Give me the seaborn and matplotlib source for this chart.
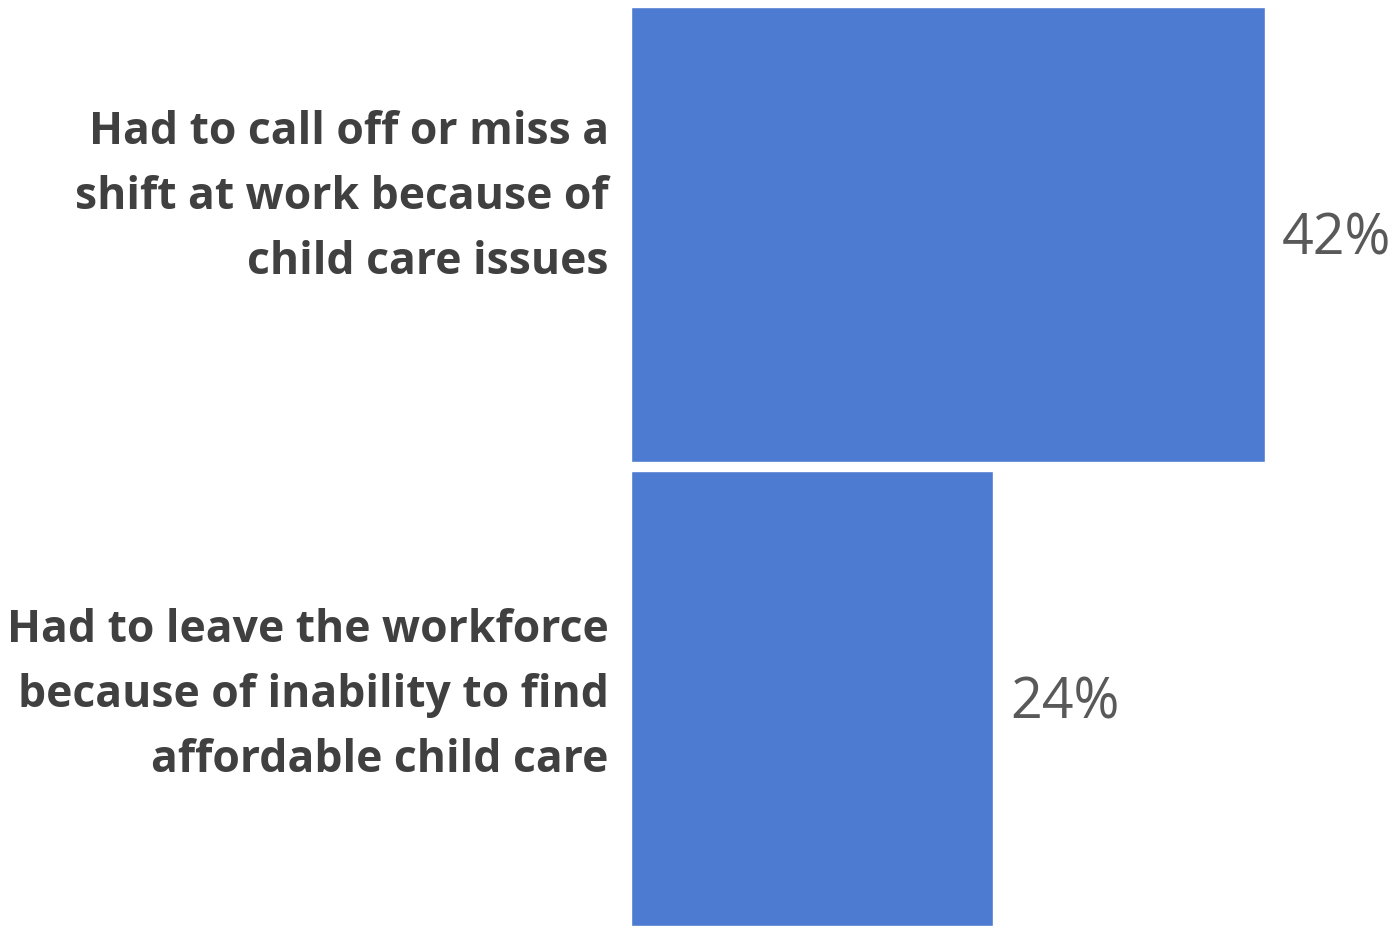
import matplotlib
matplotlib.use('Agg')
import matplotlib.pyplot as plt
import seaborn as sns
import pandas as pd

# Dati
categories = [
    'Had to call off or miss a\nshift at work because of\nchild care issues',
    'Had to leave the workforce\nbecause of inability to find\naffordable child care',
]
values = [42, 24]
value_labels = ['42%', '24%']

df = pd.DataFrame({'categoria': categories, 'valore': values})

sns.set_style('white')
plt.rcParams['font.family'] = ['Open Sans', 'DejaVu Sans']

fig = plt.figure(figsize=(13.93, 9.29), dpi=100)
ax = fig.add_axes([631 / 1393, 2 / 929, 1 - 631 / 1393, 919 / 929])

sns.barplot(data=df, x='valore', y='categoria', orient='h', color='#4C7BD1',
            saturation=1, width=0.98, ax=ax)

ax.set_xlim(0, 50.5)
ax.set_ylim(1.49, -0.49)

# Etichette valori
for i, (v, lab) in enumerate(zip(values, value_labels)):
    ax.text(v + 1.15, i + 0.01, lab, ha='left', va='center',
            fontsize=40, color='#595959')

# Etichette categorie (un po' sopra il centro della barra, come nell'originale)
shift = [-0.081, -0.009]
for i, cat in enumerate(categories):
    ax.annotate(cat, xy=(0, i + shift[i]), xycoords=('axes fraction', 'data'),
                xytext=(-16, 0), textcoords='offset points',
                ha='right', va='center', fontsize=32, fontweight='bold',
                color='#404040', linespacing=1.59)

ax.set_xlabel('')
ax.set_ylabel('')
ax.set_xticks([])
ax.set_yticks([])
sns.despine(ax=ax, left=True, bottom=True)

fig.savefig('out.png', dpi=100)
